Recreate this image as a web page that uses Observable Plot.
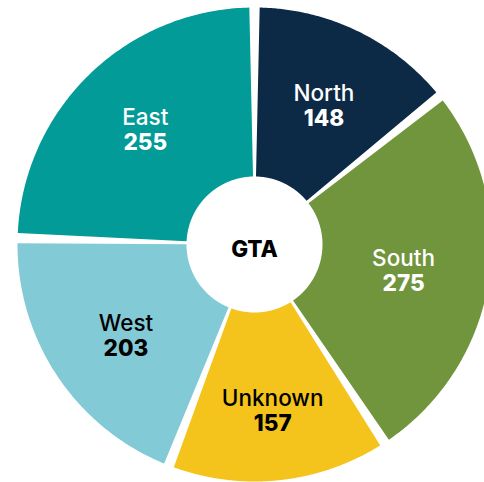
<!DOCTYPE html>
<html>
<head>
<meta charset="utf-8">
<script src="https://cdn.jsdelivr.net/npm/d3@7"></script>
<script src="https://cdn.jsdelivr.net/npm/@observablehq/plot@0.6"></script>
<style>
  html, body { margin: 0; padding: 0; background: #ffffff; }
  #chart svg { display: block; }
</style>
</head>
<body>
<div id="chart"></div>
<script>
// ---- data ----
const regions = ["North", "South", "Unknown", "West", "East"];
const counts = [148, 275, 157, 203, 255];
const sliceColors = ["#0c2a46", "#71953d", "#f4c41c", "#83cad7", "#029b97"];
const labelColors = ["#ffffff", "#ffffff", "#000000", "#000000", "#ffffff"];
const centerLabel = "GTA";

// ---- layout constants ----
const W = 484, H = 482;
const CX = 254, CY = 244;
const R_OUT = 237, R_IN = 68, R_LABEL = 158;
const PAD = 1.25 * Math.PI / 180; // half gap angle
const STEPS = 120;
// small per-label nudges (pixels), in slice order
const labelNudge = [[1, 3.5], [-7, 1.5], [1.5, 9], [3, 3.5], [1, -1]];

const total = d3.sum(counts);
const slices = [];
const labels = [];
let acc = 0;
regions.forEach((name, i) => {
  const a0 = acc / total * 2 * Math.PI;
  acc += counts[i];
  const a1 = acc / total * 2 * Math.PI;
  const s0 = a0 + PAD, s1 = a1 - PAD;
  for (let k = 0; k <= STEPS; k++) {
    const a = s0 + (s1 - s0) * k / STEPS;
    slices.push({name, color: sliceColors[i], x: R_OUT * Math.sin(a), y: -R_OUT * Math.cos(a)});
  }
  for (let k = STEPS; k >= 0; k--) {
    const a = s0 + (s1 - s0) * k / STEPS;
    slices.push({name, color: sliceColors[i], x: R_IN * Math.sin(a), y: -R_IN * Math.cos(a)});
  }
  const am = (a0 + a1) / 2;
  labels.push({name, value: String(counts[i]), tc: labelColors[i],
    x: R_LABEL * Math.sin(am) + labelNudge[i][0], y: -R_LABEL * Math.cos(am) + labelNudge[i][1]});
});

const font = "Inter, 'Noto Sans', sans-serif";

const chart = Plot.plot({
  width: W,
  height: H,
  margin: 0,
  style: {background: "#ffffff", overflow: "hidden"},
  x: {domain: [-CX, W - CX], range: [0, W], axis: null},
  y: {domain: [-CY, H - CY], range: [0, H], axis: null},
  color: {type: "identity"},
  marks: [
    Plot.line(slices, {x: "x", y: "y", z: "name", fill: "color", stroke: "none", curve: "linear"}),
    Plot.text(labels, {x: "x", y: "y", text: "name", fill: "tc", dy: -12,
      fontSize: 22.5, fontWeight: 500, fontFamily: font}),
    Plot.text(labels, {x: "x", y: "y", text: "value", fill: "tc", dy: 13,
      fontSize: 22.5, fontWeight: 800, fontFamily: font}),
    Plot.text([centerLabel], {x: () => 0, y: () => 0, text: d => d, fill: "#000000", dy: 5,
      fontSize: 22.5, fontWeight: 800, fontFamily: font})
  ]
});

document.getElementById("chart").appendChild(chart);
</script>
</body>
</html>
